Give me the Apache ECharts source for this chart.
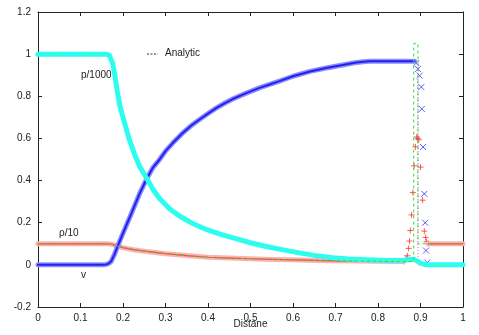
<!DOCTYPE html>
<html>
<head>
<meta charset="utf-8">
<script src="https://cdn.jsdelivr.net/npm/echarts@6/dist/echarts.min.js"></script>
<style>
html, body { margin: 0; padding: 0; background: #fff; }
#main { width: 479px; height: 335px; }
</style>
</head>
<body>
<div id="main"></div>
<script>
// simulation: p/1000 (cyan band)
var pressure = [[0,1],[0.155,1],[0.163,0.998],[0.168,0.994],[0.172,0.985],[0.176,0.955],[0.18,0.91],[0.186,0.83],[0.192,0.76],[0.2,0.7],[0.215,0.594],[0.228,0.52],[0.239,0.467],[0.256,0.41],[0.27,0.36],[0.286,0.315],[0.31,0.265],[0.333,0.232],[0.36,0.2],[0.396,0.168],[0.43,0.145],[0.474,0.12],[0.5,0.105],[0.537,0.087],[0.58,0.07],[0.615,0.057],[0.65,0.045],[0.693,0.034],[0.73,0.028],[0.773,0.024],[0.82,0.021],[0.86,0.021],[0.875,0.025],[0.885,0.026],[0.892,0.018],[0.9,0.008],[0.91,0.002],[0.92,0],[1,0]];
// simulation: v (blue band + scattered points at the shock)
var velocity = [[0,0],[0.15,0],[0.16,0.002],[0.166,0.006],[0.172,0.016],[0.18,0.05],[0.187,0.087],[0.2,0.15],[0.22,0.245],[0.238,0.333],[0.256,0.41],[0.27,0.46],[0.286,0.5],[0.3,0.54],[0.317,0.578],[0.34,0.625],[0.36,0.66],[0.38,0.69],[0.4,0.718],[0.42,0.745],[0.44,0.768],[0.458,0.787],[0.49,0.815],[0.521,0.84],[0.545,0.856],[0.568,0.872],[0.6,0.895],[0.64,0.918],[0.678,0.934],[0.72,0.95],[0.745,0.959],[0.765,0.964],[0.78,0.966],[0.83,0.966],[0.886,0.966]];
var velocityShock = [[0.89,0.958],[0.894,0.93],[0.898,0.898],[0.902,0.844],[0.903,0.74],[0.906,0.559],[0.909,0.337],[0.911,0.2],[0.913,0.068],[0.916,0.011]];
var velocityRight = [[0.916,0],[1,0]];
// simulation: rho/10 (red band + scattered points at the shock)
var density = [[0,0.1],[0.16,0.1],[0.17,0.099],[0.177,0.096],[0.185,0.09],[0.2,0.082],[0.225,0.072],[0.25,0.065],[0.3,0.053],[0.35,0.044],[0.4,0.036],[0.45,0.032],[0.5,0.029],[0.55,0.026],[0.6,0.024],[0.65,0.021],[0.7,0.019],[0.75,0.018],[0.8,0.017],[0.85,0.016],[0.86,0.016]];
var densityShock = [[0.862,0.016],[0.866,0.03],[0.869,0.043],[0.872,0.078],[0.874,0.113],[0.876,0.163],[0.879,0.237],[0.882,0.343],[0.885,0.47],[0.888,0.56],[0.891,0.607],[0.893,0.6],[0.896,0.594],[0.9,0.464],[0.905,0.307],[0.909,0.16],[0.912,0.13],[0.914,0.11],[0.918,0.102]];
var densityRight = [[0.918,0.1],[1,0.1]];
// analytic solution pieces beyond the smooth part
var rhoJump = [[0.884,0.015],[0.884,1.05],[0.894,1.05],[0.894,0.1],[1,0.1]];
var pJump = [[0.884,0.021],[0.894,0.021],[0.894,0],[1,0]];
var vJump = [[0.894,0.966],[0.894,0],[1,0]];

var analyticRho = density.concat(rhoJump);
var analyticP = pressure.filter(function(d) { return d[0] < 0.86; }).concat(pJump);
var analyticV = velocity.concat(vJump);

var xSymbol = 'path://M0,0L10,10M10,0L0,10';
var plusSymbol = 'path://M5,0L5,10M0,5L10,5';
var font = 'Liberation Sans';

function band(data, color, width) {
	return {
		type: 'line', data: data, symbol: 'none', silent: true,
		lineStyle: { color: color, width: width, join: 'round', cap: 'round' }
	};
}

function frameAxis(pos, isX, labels) {
	var ax = {
		type: 'value', position: pos,
		axisLine: { show: true, onZero: false, lineStyle: { color: '#222', width: 1 } },
		axisTick: { show: true, inside: true, length: 4, lineStyle: { color: '#222' } },
		axisLabel: { show: labels, color: '#222', fontFamily: font, fontSize: 10, margin: isX ? 6 : 7 },
		splitLine: { show: false }
	};
	if (isX) {
		ax.min = 0; ax.max = 1; ax.interval = 0.1;
	} else {
		ax.min = -0.2; ax.max = 1.2; ax.interval = 0.2;
	}
	return ax;
}

var chart = echarts.init(document.getElementById('main'));
var xBottom = frameAxis('bottom', true, true);
xBottom.name = 'Distane';
xBottom.nameLocation = 'middle';
xBottom.nameGap = 12;
xBottom.nameMoveOverlap = false;
xBottom.nameTextStyle = { color: '#222', fontFamily: font, fontSize: 10, verticalAlign: 'top' };

var option = {
	animation: false,
	grid: { left: 38, right: 16, top: 12, bottom: 28, outerBoundsMode: 'none', containLabel: false },
	xAxis: [xBottom, frameAxis('top', true, false)],
	yAxis: [frameAxis('left', false, true), frameAxis('right', false, false)],
	series: [
		band(density, '#ffb0b0', 5),
		band(density, '#ff4040', 1.2),
		band(densityRight, '#ffb0b0', 5),
		band(densityRight, '#ff4040', 1.2),
		{
			type: 'line', data: analyticV, symbol: 'none', silent: true,
			lineStyle: { color: '#ff44ff', width: 1, type: [1, 2] }
		},
		band(velocity, '#8c8cff', 5),
		band(velocity, '#2222ee', 2),
		band(velocityRight, '#2222ee', 3),
		band(pressure, '#22ffff', 5),
		{
			type: 'line', data: analyticRho, symbol: 'none', silent: true,
			lineStyle: { color: '#33dd33', width: 1, type: [3, 3] }
		},
		{
			type: 'line', data: analyticP, symbol: 'none', silent: true,
			lineStyle: { color: '#aaee22', width: 1, type: [2, 4] }
		},
		{
			type: 'scatter', data: velocityShock, symbol: xSymbol, symbolSize: 6, silent: true,
			itemStyle: { color: 'rgba(0,0,0,0)', borderColor: '#3333ff', borderWidth: 1 }
		},
		{
			type: 'scatter', data: densityShock, symbol: plusSymbol, symbolSize: 6, silent: true,
			itemStyle: { color: 'rgba(0,0,0,0)', borderColor: '#ff3333', borderWidth: 1 }
		}
	],
	graphic: [
		{ type: 'line', shape: { x1: 147, y1: 54, x2: 158, y2: 54 }, style: { stroke: '#333', lineWidth: 1, lineDash: [2, 1.5] } },
		{ type: 'text', left: 165, top: 48, style: { text: 'Analytic', fill: '#222', font: '10px "Liberation Sans"' } },
		{ type: 'text', left: 81, top: 70, style: { text: 'p/1000', fill: '#222', font: '10px "Liberation Sans"' } },
		{ type: 'text', left: 59, top: 228, style: { text: 'ρ/10', fill: '#222', font: '10px "Liberation Sans"' } },
		{ type: 'text', left: 81, top: 270, style: { text: 'v', fill: '#222', font: '10px "Liberation Sans"' } }
	]
};
chart.setOption(option);
</script>
</body>
</html>
